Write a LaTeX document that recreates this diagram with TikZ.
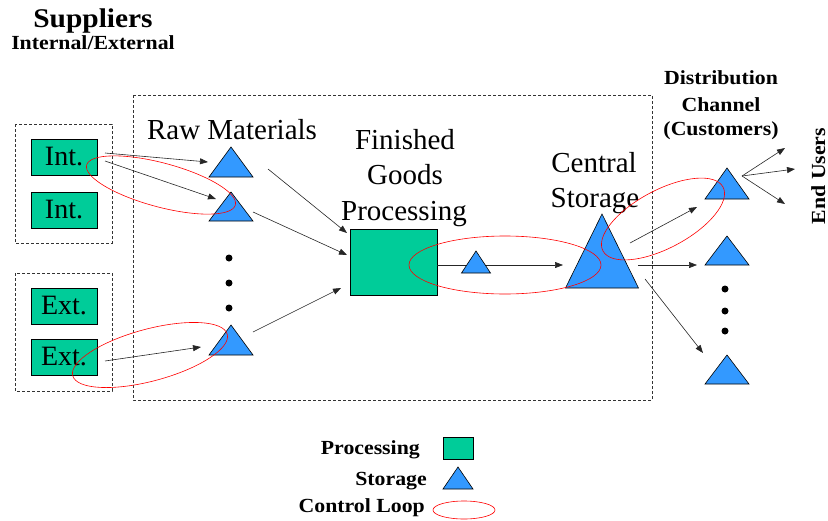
\documentclass[tikz,border=0pt]{standalone}
\usepackage{fontspec}
\setmainfont{Liberation Serif}
\usetikzlibrary{arrows.meta}
\definecolor{procgreen}{RGB}{0,204,153}
\definecolor{storblue}{RGB}{51,153,255}
\tikzset{
 proc/.style={draw=black, fill=procgreen, line width=0.6pt, minimum width=66pt, minimum height=36pt, inner sep=0pt, font=\fontsize{28}{30}\selectfont},
 stor/.style={draw=black, fill=storblue, line width=0.6pt},
 ctrl/.style={draw=red, line width=0.6pt},
 flow/.style={draw=black!85, line width=0.6pt, -{Triangle[length=8pt,width=6pt]}},
 dbox/.style={draw=black!80, line width=0.6pt, dash pattern=on 3pt off 2pt},
 big/.style={font=\fontsize{29}{31}\selectfont, inner sep=0pt, anchor=base},
 boldlbl/.style={font=\fontsize{20}{22}\selectfont\bfseries, inner sep=0pt, anchor=base},
 blackdot/.style={circle, fill=black, inner sep=0pt, minimum size=7pt},
}
\newcommand\mytri[5]{% name, x, apex y, base y, half width
  \draw[stor] (#2-#5,#4) -- (#2,#3) -- (#2+#5,#4) -- cycle;
  \coordinate (#1) at (#2,#3);}
\newcommand\wide[1]{\scalebox{1.09}[1]{#1}}
\begin{document}
\begin{tikzpicture}[x=1pt,y=-1pt]
\useasboundingbox (0,0) rectangle (828,520);
% titles
\node[font=\fontsize{27}{29}\selectfont\bfseries, inner sep=0pt, anchor=base] (sup) at (93,27) {\wide{Suppliers}};
\node[boldlbl] (ie) at (93,49) {\wide{Internal/External}};
% dashed boxes
\draw[dbox] (15,124) rectangle (112,243);
\draw[dbox] (15,273) rectangle (112,391);
\draw[dbox] (133,95) rectangle (652,400);
% supplier boxes
\node[proc] (int1) at (64,157) {Int.};
\node[proc] (int2) at (64,210) {Int.};
\node[proc] (ext1) at (64,306) {Ext.};
\node[proc] (ext2) at (64,357) {Ext.};
% labels
\node[big] (rawlbl) at (232,139) {Raw Materials};
\node[big] (fin1) at (405,149) {Finished};
\node[big] (fin2) at (405,184) {Goods};
\node[big] (fin3) at (404,220) {Processing};
\node[big] (cen1) at (594,172) {Central};
\node[big] (cen2) at (595,207) {Storage};
\node[boldlbl] (dist1) at (721,84) {\wide{Distribution}};
\node[boldlbl] (dist2) at (721,111) {\wide{Channel}};
\node[boldlbl] (dist3) at (721,135) {\wide{(Customers)}};
\node[boldlbl, rotate=90] (endu) at (825,176) {\wide{End Users}};
% connector end points
\coordinate (a1s) at (105,153); \coordinate (a1e) at (208,162);
\coordinate (a2s) at (105,161); \coordinate (a2e) at (216,199);
\coordinate (a3s) at (105,361); \coordinate (a3e) at (201,347);
\coordinate (b1s) at (268,169); \coordinate (b1e) at (347,233);
\coordinate (b2s) at (253,212); \coordinate (b2e) at (347,255);
\coordinate (b3s) at (253,332); \coordinate (b3e) at (341,288);
\coordinate (cs) at (437,265); \coordinate (ce) at (563,265);
\coordinate (d1s) at (630,243); \coordinate (d1e) at (697,207);
\coordinate (d2s) at (638,265); \coordinate (d2e) at (697,265);
\coordinate (d3s) at (645,279); \coordinate (d3e) at (703,353);
\coordinate (eus) at (742,176);
\coordinate (eu1) at (785,148); \coordinate (eu2) at (795,169); \coordinate (eu3) at (785,204);
% processing box
\node[proc, minimum width=87pt, minimum height=66pt] (fgp) at (393.5,262) {};
% arrows
\draw[flow] (a1s) -- (a1e);
\draw[flow] (a2s) -- (a2e);
\draw[flow] (a3s) -- (a3e);
\draw[flow] (b1s) -- (b1e);
\draw[flow] (b2s) -- (b2e);
\draw[flow] (b3s) -- (b3e);
\draw[flow] (cs) -- (ce);
\draw[flow] (d1s) -- (d1e);
\draw[flow] (d2s) -- (d2e);
\draw[flow] (d3s) -- (d3e);
\draw[flow] (eus) -- (eu1);
\draw[flow] (eus) -- (eu2);
\draw[flow] (eus) -- (eu3);
% storage triangles
\mytri{raw1}{231}{147}{177}{22}
\mytri{raw2}{231}{192}{221}{22}
\mytri{raw3}{231}{325}{355}{22}
\mytri{wip}{476}{251}{273}{14.5}
\mytri{central}{602}{214}{288}{36.5}
\mytri{dc1}{727}{168}{199}{22}
\mytri{dc2}{727}{236}{265}{22}
\mytri{dc3}{727}{355}{384}{22}
% dots
\node[blackdot] (rd1) at (229,258) {};
\node[blackdot] (rd2) at (229,283) {};
\node[blackdot] (rd3) at (229,308) {};
\node[blackdot] (dd1) at (725,289) {};
\node[blackdot] (dd2) at (725,311) {};
\node[blackdot] (dd3) at (725,331) {};
% control loops
\draw[ctrl, rotate around={-15:(161,185)}] (161,185) ellipse (77 and 22);
\draw[ctrl, rotate around={15:(150,355)}] (150,355) ellipse (80 and 26);
\draw[ctrl] (505,265) ellipse (96 and 29);
\draw[ctrl, rotate around={28:(663,219)}] (663,219) ellipse (68 and 29);
% legend
\node[boldlbl, anchor=base east] (lp) at (420,454) {\wide{Processing}};
\node[boldlbl, anchor=base east] (ls) at (427,485) {\wide{Storage}};
\node[boldlbl, anchor=base east] (lc) at (425,512) {\wide{Control Loop}};
\node[proc, minimum width=30pt, minimum height=22pt] (lbox) at (458,448) {};
\mytri{ltri}{458}{467}{489}{15}
\draw[ctrl] (464,510) ellipse (31 and 9);
\end{tikzpicture}
\end{document}
